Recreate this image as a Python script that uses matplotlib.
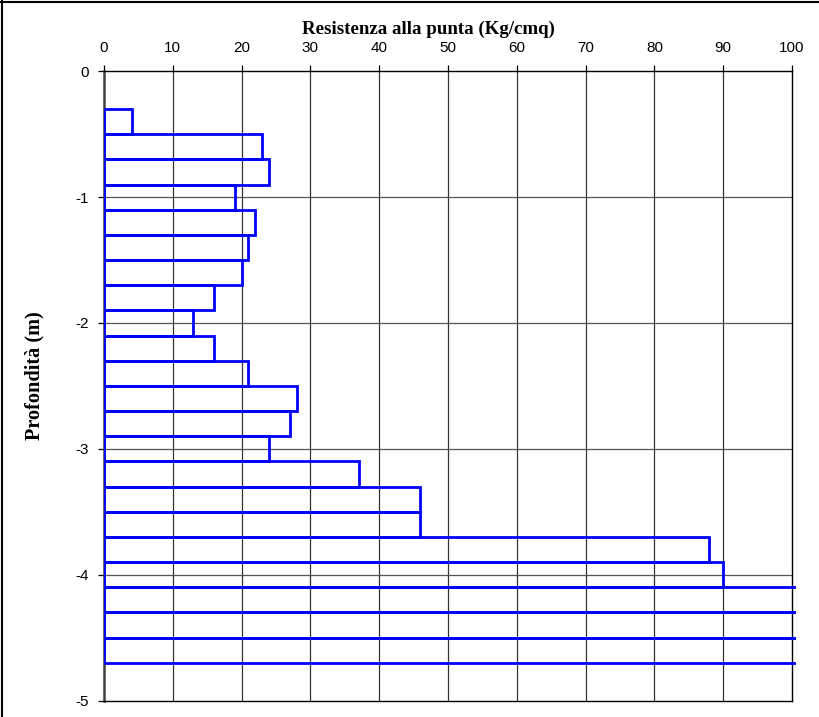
import numpy as np
import matplotlib
matplotlib.use("Agg")
import matplotlib.pyplot as plt
from matplotlib.lines import Line2D
from matplotlib.patches import Rectangle

plt.rcParams['axes.unicode_minus'] = False
plt.rcParams['font.family'] = ['Liberation Sans', 'DejaVu Sans']

# ---------------------------
# data: penetrometer readings every 20 cm
# ---------------------------
depth_top = [-0.3, -0.5, -0.7, -0.9, -1.1, -1.3, -1.5, -1.7, -1.9, -2.1, -2.3,
             -2.5, -2.7, -2.9, -3.1, -3.3, -3.5, -3.7, -3.9, -4.1, -4.3, -4.5]
resistance = [4, 23, 24, 19, 22, 21, 20, 16, 13, 16, 21,
              28, 27, 24, 37, 46, 46, 88, 90, 150, 150, 150]  # last ones off scale
step = 0.2

x_ticks = [0, 10, 20, 30, 40, 50, 60, 70, 80, 90, 100]
y_ticks = [0, -1, -2, -3, -4, -5]

# ---------------------------
# figure
# ---------------------------
fig = plt.figure(figsize=(8.2, 7.17), dpi=100)
ax = fig.add_axes([104 / 820, 1 - 700.5 / 717, 688 / 820, 629.2 / 717])

ax.set_xlim(0, 100)
ax.set_ylim(-5, 0)

# grid
for xv in x_ticks[1:-1]:
    ax.axvline(xv, color='#333333', lw=0.9, zorder=1)
for yv in y_ticks[1:-1]:
    ax.axhline(yv, color='#555555', lw=0.9, zorder=1)

# bars: top edge at depth_top, 0.2 m thick
bars = ax.barh(np.array(depth_top) - step, resistance, height=step, align='edge',
               fill=False, edgecolor='#0000FF', linewidth=2.0, zorder=3)
clip = Rectangle((0, -5), 100.65, 5, transform=ax.transData)
for b in bars:
    b.set_clip_path(clip)

# axes styling
ax.xaxis.tick_top()
ax.set_xticks(x_ticks)
ax.set_yticks(y_ticks)
ax.tick_params(axis='x', direction='out', length=4.5, width=0.9, pad=7,
               labelsize=11, colors='black')
ax.tick_params(axis='y', direction='out', length=4.5, width=0.9, pad=6.3,
               labelsize=11, colors='black')
for s in ['top', 'right', 'bottom']:
    ax.spines[s].set_linewidth(1.0)
    ax.spines[s].set_color('black')
ax.spines['left'].set_linewidth(1.8)
ax.spines['left'].set_color('#404040')

# axis titles
fig.text(428.7 / 820, 1 - 34 / 717, 'Resistenza alla punta (Kg/cmq)',
         ha='center', va='baseline', fontsize=13.6, fontweight='bold',
         family='Liberation Serif')
fig.text(34.5 / 820, 1 - 375.5 / 717, 'Profondità (m)', rotation=90,
         ha='center', va='center', fontsize=14.6, fontweight='bold',
         family='Liberation Serif')

# frame of the picture (top and left edge)
fig.add_artist(Line2D([0, 1], [1 - 2 / 717, 1 - 2 / 717], color='black', lw=1.5,
                      transform=fig.transFigure))
fig.add_artist(Line2D([2.5 / 820, 2.5 / 820], [0, 1], color='black', lw=1.5,
                      transform=fig.transFigure))

fig.savefig('out.png', dpi=100)
plt.close(fig)
